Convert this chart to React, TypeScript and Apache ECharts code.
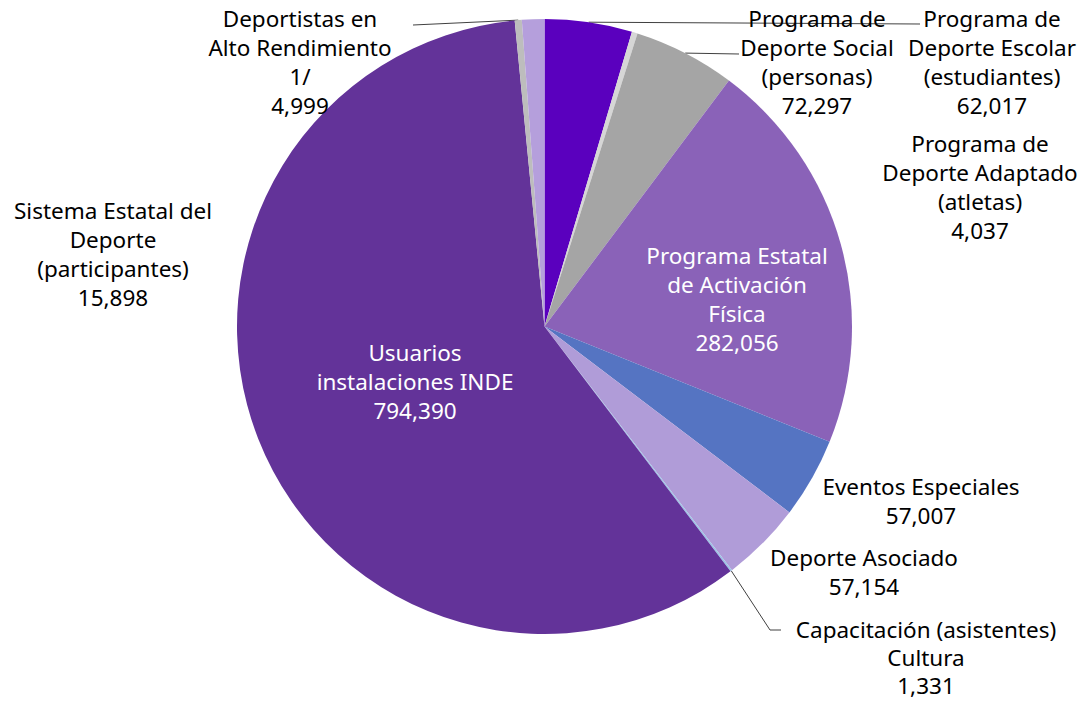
import React, { useEffect, useRef } from "react";
import * as echarts from "echarts";

// ---- Data (clockwise from 12 o'clock) ----
const categories: string[] = [
  "Programa de\nDeporte Escolar\n(estudiantes)",
  "Programa de\nDeporte Adaptado\n(atletas)",
  "Programa de\nDeporte Social\n(personas)",
  "Programa Estatal\nde Activación\nFísica",
  "Eventos Especiales",
  "Deporte Asociado",
  "Capacitación (asistentes)\nCultura",
  "Usuarios\ninstalaciones INDE",
  "Deportistas en\nAlto Rendimiento\n1/",
  "Sistema Estatal del\nDeporte\n(participantes)",
];
const values: number[] = [62017, 4037, 72297, 282056, 57007, 57154, 1331, 794390, 4999, 15898];
const colors: string[] = [
  "#5a00be",
  "#d6d6d6",
  "#a5a5a5",
  "#8a62b8",
  "#5574c2",
  "#b09cd8",
  "#9dc3e6",
  "#633399",
  "#bdbdbd",
  "#b59fdc",
];
const insideLabel: boolean[] = [false, false, false, true, false, false, false, true, false, false];

// ---- Layout (label anchor: center x, top y, line height) ----
const labelPos: number[][] = [
  [992, 3.5, 29],
  [980, 128.5, 29],
  [817, 3.5, 29],
  [737, 240.5, 29],
  [921, 471.5, 29],
  [864, 542.5, 29],
  [926, 615, 28],
  [415, 337.5, 29],
  [300, 3.5, 29],
  [113, 195.5, 29],
];
// leader line routing (intermediate/end points), null = no leader line
const leaderRoute: (number[][] | null)[] = [
  [[920, 24]],
  null,
  [[739, 54]],
  null,
  null,
  null,
  [[770, 630], [781, 630]],
  null,
  [[413, 25]],
  null,
];

const fmt = (v: number) => v.toLocaleString("en-US");

export default function App() {
  const ref = useRef<HTMLDivElement>(null);
  useEffect(() => {
    document.body.style.margin = "0";
    const chart = echarts.init(ref.current!, undefined, { renderer: "svg" });
    const data = categories.map((name, i) => ({
      name,
      value: values[i],
      itemStyle: { color: colors[i] },
      label: {
        color: insideLabel[i] ? "#ffffff" : "#000000",
        lineHeight: labelPos[i][2],
      },
      labelLine: { show: leaderRoute[i] !== null },
    }));
    chart.setOption({
      animation: false,
      series: [
        {
          type: "pie",
          center: [544.5, 326.5],
          radius: 307.5,
          startAngle: 90,
          clockwise: true,
          avoidLabelOverlap: false,
          data,
          itemStyle: { borderWidth: 0 },
          emphasis: { disabled: true },
          label: {
            show: true,
            position: "outside",
            formatter: (p: any) => `${p.name}\n${fmt(p.value)}`,
            fontFamily: "'Noto Sans', sans-serif",
            fontSize: 22.5,
            lineHeight: 29,
            align: "center",
          },
          labelLine: {
            show: true,
            length: 10,
            length2: 10,
            lineStyle: { color: "#404040", width: 1 },
          },
          labelLayout: (params: any) => {
            const i = params.dataIndex;
            const p = labelPos[i];
            const out: any = {
              x: p[0],
              y: p[1],
              align: "center",
              verticalAlign: "top",
            };
            const route = leaderRoute[i];
            if (route && params.labelLinePoints && params.labelLinePoints[0]) {
              out.labelLinePoints = [params.labelLinePoints[0], ...route];
            }
            return out;
          },
        },
      ],
    });
    return () => chart.dispose();
  }, []);
  return (
    <div
      ref={ref}
      style={{ position: "absolute", left: 0, top: 0, width: 1084, height: 701, background: "#ffffff" }}
    />
  );
}
